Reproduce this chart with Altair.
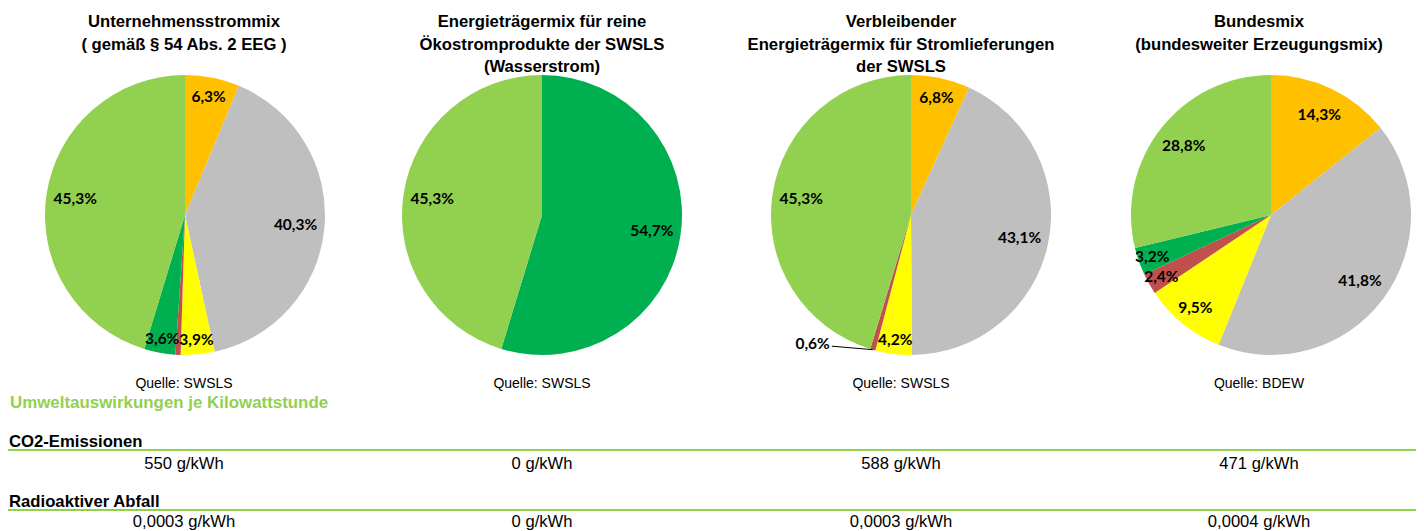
import altair as alt
import pandas as pd

# ---------------- data ----------------
categories = [
    "Kernkraft",
    "Kohle",
    "Erdgas",
    "Sonstige fossile Energieträger",
    "Sonstige erneuerbare Energien",
    "Erneuerbare Energien, gefördert nach dem EEG",
]
pie_ids = ["Unternehmensstrommix", "Ökostrom", "Verbleibend", "Bundesmix"]
pie_titles = [
    "Unternehmensstrommix\n( gemäß § 54 Abs. 2 EEG )",
    "Energieträgermix für reine\nÖkostromprodukte der SWSLS\n(Wasserstrom)",
    "Verbleibender\nEnergieträgermix für Stromlieferungen\nder SWSLS",
    "Bundesmix\n(bundesweiter Erzeugungsmix)",
]
mix_unternehmen = [6.3, 40.3, 3.9, 0.6, 3.6, 45.3]
mix_oekostrom = [0.0, 0.0, 0.0, 0.0, 54.7, 45.3]
mix_verbleibend = [6.8, 43.1, 4.2, 0.6, 0.0, 45.3]
mix_bundesmix = [14.3, 41.8, 9.5, 2.4, 3.2, 28.8]
sources = ["Quelle: SWSLS", "Quelle: SWSLS", "Quelle: SWSLS", "Quelle: BDEW"]
section_title = "Umweltauswirkungen je Kilowattstunde"
row_titles = ["CO2-Emissionen", "Radioaktiver Abfall"]
co2 = ["550 g/kWh", "0 g/kWh", "588 g/kWh", "471 g/kWh"]
radioaktiv = ["0,0003 g/kWh", "0 g/kWh", "0,0003 g/kWh", "0,0004 g/kWh"]
# slices whose label is not shown / shown outside with a leader line
hidden_labels = [("Unternehmensstrommix", "Sonstige fossile Energieträger")]
outside_labels = [("Verbleibend", "Sonstige fossile Energieträger")]

# ---------------- styles / layout ----------------
colors = ["#FFC000", "#BFBFBF", "#FFFF00", "#C0504D", "#00B050", "#92D050"]
GREEN = "#92D050"
W, H = 1408, 523
pie_cx = [177, 534, 903, 1263]
pie_cy = 207
R = 140
col_x = [176, 534, 893, 1251]
TITLE_FONT = "Liberation Sans"
LABEL_FONT = "Lato"

mixes = [mix_unternehmen, mix_oekostrom, mix_verbleibend, mix_bundesmix]
rows = []
for p, mix in zip(pie_ids, mixes):
    for i, (c, v) in enumerate(zip(categories, mix)):
        if v <= 0:
            continue
        lab = f"{v:.1f}".replace(".", ",") + "%"
        if (p, c) in hidden_labels:
            mode = "none"
        elif (p, c) in outside_labels:
            mode = "out"
        elif v >= 10:
            mode = "big"
        elif v >= 5:
            mode = "mid"
        else:
            mode = "small"
        rows.append(dict(pie=p, cat=c, idx=i, value=v, label=lab, mode=mode))
df = pd.DataFrame(rows)

color_scale = alt.Scale(domain=categories, range=colors)

layers = []
for k, p in enumerate(pie_ids):
    base = alt.Chart(df).transform_filter(alt.datum.pie == p)
    enc = dict(
        theta=alt.Theta("value:Q", stack=True),
        order=alt.Order("idx:Q"),
        x=alt.value(pie_cx[k]),
        y=alt.value(pie_cy),
    )
    arc = base.mark_arc(outerRadius=R).encode(
        color=alt.Color("cat:N", scale=color_scale, legend=None), **enc
    )
    layers.append(arc)
    for mode, rad in [("big", 111), ("mid", 120), ("small", 126)]:
        t = (
            base.transform_calculate(
                lab=f"datum.mode == '{mode}' ? datum.label : ''"
            )
            .mark_text(
                radius=rad, font=LABEL_FONT, fontWeight="bold", fontSize=15.5,
                color="black", align="center", baseline="middle",
            )
            .encode(text="lab:N", **enc)
        )
        layers.append(t)

    # leader line + outside label
    if any(o[0] == p for o in outside_labels):
        lead = (
            base.transform_joinaggregate(total="sum(value)")
            .transform_window(cum="sum(value)", sort=[alt.SortField("idx")],
                              frame=[None, 0])
            .transform_calculate(
                ang="(datum.cum - datum.value / 2) / datum.total * 2 * PI"
            )
            .transform_calculate(
                ex=f"{pie_cx[k]} + {R} * sin(datum.ang)",
                ey=f"{pie_cy} - {R} * cos(datum.ang)",
            )
            .transform_calculate(
                lx="datum.ex - 41", ly="datum.ey - 3.5",
                tx="datum.ex - 43", ty="datum.ey - 6",
            )
            .transform_filter(alt.datum.mode == "out")
        )
        layers.append(
            lead.mark_rule(color="black", strokeWidth=1).encode(
                x=alt.X("ex:Q", scale=None), x2="lx:Q",
                y=alt.Y("ey:Q", scale=None), y2="ly:Q",
            )
        )
        layers.append(
            lead.mark_text(
                font=LABEL_FONT, fontWeight="bold", fontSize=15.5, color="black",
                align="right", baseline="middle",
            ).encode(
                x=alt.X("tx:Q", scale=None), y=alt.Y("ty:Q", scale=None),
                text="label:N",
            )
        )

# titles, sources and table values per column
txt_df = pd.DataFrame(
    dict(pie=pie_ids, title=pie_titles, source=sources, co2=co2, rad=radioaktiv)
)
for k, p in enumerate(pie_ids):
    b = alt.Chart(txt_df).transform_filter(alt.datum.pie == p)
    layers.append(
        b.mark_text(
            font=TITLE_FONT, fontWeight="bold", fontSize=16.7, lineBreak="\n",
            lineHeight=22.5, align="center", baseline="alphabetic", color="black",
        ).encode(text="title:N", x=alt.value(col_x[k]), y=alt.value(19))
    )
    layers.append(
        b.mark_text(font=TITLE_FONT, fontSize=14, align="center",
                    baseline="alphabetic", color="black")
        .encode(text="source:N", x=alt.value(col_x[k]), y=alt.value(380))
    )
    layers.append(
        b.mark_text(font=TITLE_FONT, fontSize=16.6, align="center",
                    baseline="alphabetic", color="black")
        .encode(text="co2:N", x=alt.value(col_x[k]), y=alt.value(461))
    )
    layers.append(
        b.mark_text(font=TITLE_FONT, fontSize=16.6, align="center",
                    baseline="alphabetic", color="black")
        .encode(text="rad:N", x=alt.value(col_x[k]), y=alt.value(519))
    )

head_df = pd.DataFrame(dict(section=[section_title], co2h=[row_titles[0]],
                            radh=[row_titles[1]]))
hb = alt.Chart(head_df)
layers.append(
    hb.mark_text(font=TITLE_FONT, fontWeight="bold", fontSize=16.9, color=GREEN,
                 align="left", baseline="alphabetic")
    .encode(text="section:N", x=alt.value(2), y=alt.value(400))
)
layers.append(
    hb.mark_text(font=TITLE_FONT, fontWeight="bold", fontSize=16.7, color="black",
                 align="left", baseline="alphabetic")
    .encode(text="co2h:N", x=alt.value(1), y=alt.value(439))
)
layers.append(
    hb.mark_text(font=TITLE_FONT, fontWeight="bold", fontSize=16.7, color="black",
                 align="left", baseline="alphabetic")
    .encode(text="radh:N", x=alt.value(1), y=alt.value(499))
)
for yy in [442, 502]:
    layers.append(
        hb.mark_rule(color=GREEN, strokeWidth=2).encode(
            x=alt.value(0), x2=alt.value(W), y=alt.value(yy)
        )
    )

chart = (
    alt.layer(*layers)
    .resolve_scale(theta="independent")
    .properties(width=W, height=H, padding=0, autosize="none")
    .configure_view(stroke=None)
)
chart.save("out.html", embed_options={"renderer": "svg", "actions": False})
